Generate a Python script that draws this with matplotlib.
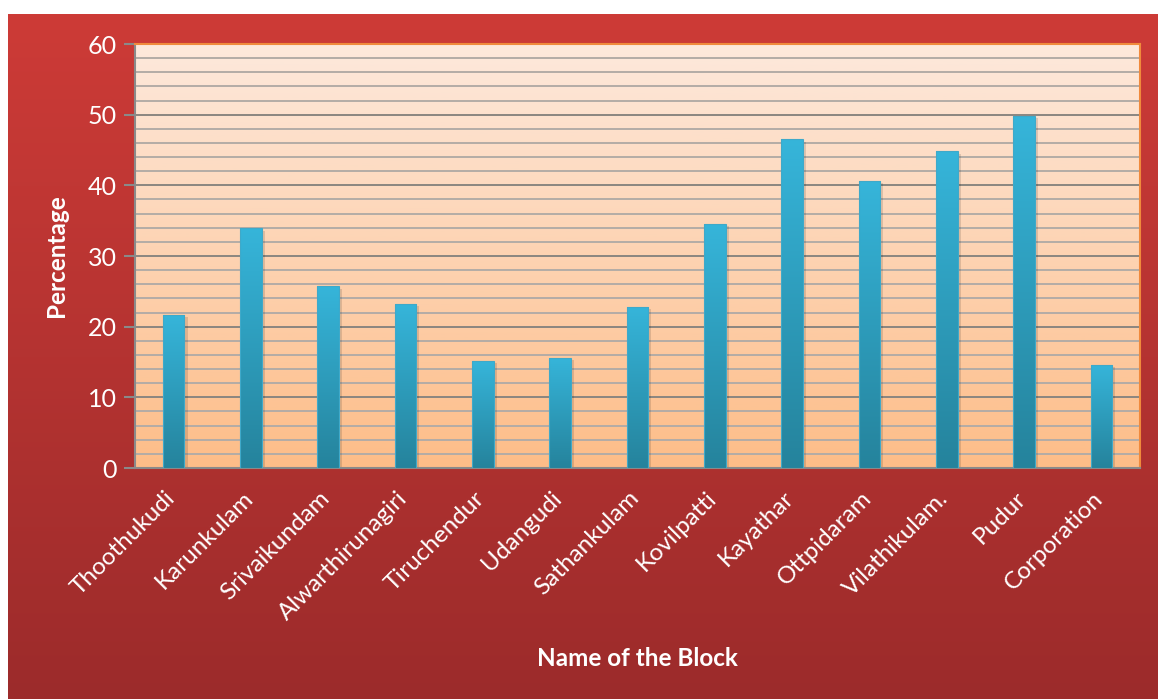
import numpy as np
import matplotlib
matplotlib.use("Agg")
import matplotlib.pyplot as plt
import matplotlib.transforms as mtransforms
from matplotlib.colors import LinearSegmentedColormap
from matplotlib.patches import Rectangle

categories = ["Thoothukudi", "Karunkulam", "Srivaikundam", "Alwarthirunagiri",
              "Tiruchendur", "Udangudi", "Sathankulam", "Kovilpatti", "Kayathar",
              "Ottpidaram", "Vilathikulam.", "Pudur", "Corporation"]
values = [21.6, 33.9, 25.7, 23.2, 15.1, 15.6, 22.8, 34.5, 46.5, 40.6, 44.8, 49.8, 14.6]
y_ticks = [0, 10, 20, 30, 40, 50, 60]

plt.rcParams['font.family'] = ['Lato', 'DejaVu Sans']

W, H = 1158, 699
fig = plt.figure(figsize=(W / 100, H / 100), dpi=100)
fig.patch.set_facecolor("white")

# red gradient background panel
bg = fig.add_axes([8 / W, 0, 1 - 8 / W, 1 - 14 / H])
bg.set_axis_off()
red_cmap = LinearSegmentedColormap.from_list("r", ["#9c2b2b", "#cd3b37"])
grad = np.linspace(0, 1, 256).reshape(-1, 1)
bg.imshow(grad, aspect="auto", cmap=red_cmap, origin="lower", extent=[0, 1, 0, 1])
bg.set_xlim(0, 1)
bg.set_ylim(0, 1)

left, right = 135 / W, 1140 / W
bottom, top = 1 - 468 / H, 1 - 44 / H
ax = fig.add_axes([left, bottom, right - left, top - bottom])
ax.set_zorder(2)

n = len(categories)
x = np.arange(n)
ax.set_xlim(-0.5, n - 0.5)
ax.set_ylim(0, 60)

# plot-area gradient
peach = LinearSegmentedColormap.from_list("p", ["#fdbd88", "#fde9dc"])
ax.imshow(grad, aspect="auto", cmap=peach, origin="lower",
          extent=[-0.5, n - 0.5, 0, 60], zorder=0)

# gridlines
for v in np.arange(2, 60, 2):
    if v % 10 == 0:
        ax.axhline(v, color="#8a8680", lw=1.4, zorder=1)
    else:
        ax.axhline(v, color="#b3aca6", lw=1.4, zorder=1)

blue = LinearSegmentedColormap.from_list("b", ["#25839c", "#36b5da"])
bw = 0.28
for xi, v in zip(x, values):
    # shadow
    sh = Rectangle((xi - bw / 2 + 0.04, 0), bw, v - 0.3, facecolor="#000000",
                   alpha=0.12, edgecolor="none", zorder=2)
    ax.add_patch(sh)
    rect = Rectangle((xi - bw / 2, 0), bw, v, facecolor="none",
                     edgecolor="#3fa9c9", lw=0.8, zorder=4)
    ax.add_patch(rect)
    im = ax.imshow(grad, aspect="auto", cmap=blue, origin="lower",
                   extent=[xi - bw / 2, xi + bw / 2, 0, v], zorder=3)
    im.set_clip_path(rect)

ax.set_xlim(-0.5, n - 0.5)
ax.set_ylim(0, 60)

for s in ["top", "right"]:
    ax.spines[s].set_color("#f08a3c")
    ax.spines[s].set_linewidth(1.5)
for s in ["left", "bottom"]:
    ax.spines[s].set_color("#8a8a8a")
    ax.spines[s].set_linewidth(1.5)

ax.set_yticks(y_ticks)
ax.set_yticklabels([str(t) for t in y_ticks], color="white", fontsize=18)
ax.tick_params(axis="y", length=8, width=1.5, color="#8a8a8a", pad=5)
ax.set_xticks(x)
ax.set_xticklabels(categories, rotation=45, ha="right", rotation_mode="anchor",
                   color="white", fontsize=17.5)
ax.tick_params(axis="x", length=0, pad=14)
offset = mtransforms.ScaledTranslation(-9 / 100, 0, fig.dpi_scale_trans)
for lbl in ax.get_xticklabels():
    lbl.set_transform(lbl.get_transform() + offset)

ax.set_ylabel("Percentage", color="white", fontsize=17.5, fontweight="bold", labelpad=14)
fig.text(637 / W, 1 - 658 / H, "Name of the Block", color="white", fontsize=17.5,
         fontweight="bold", ha="center", va="center")

fig.savefig("out.png", dpi=100, facecolor=fig.get_facecolor())
